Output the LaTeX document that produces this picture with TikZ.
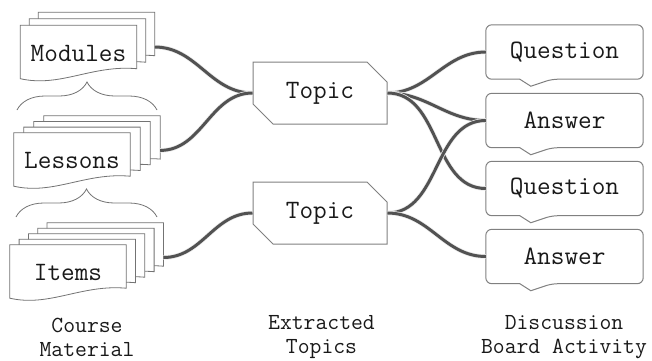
\documentclass[tikz,border=0pt]{standalone}
\usepackage{fontspec}
\usetikzlibrary{shapes,calc}
\usetikzlibrary{decorations.pathreplacing}

\begin{document}
\begin{tikzpicture}[x=1pt,y=-1pt]
    \tikzstyle{page}=[rectangle, inner sep=0pt, minimum width=116pt, minimum height=55pt]
    \tikzstyle{pageline}=[draw=black!55, fill=white, line width=0.8pt]
    \tikzstyle{doctext}=[font=\ttfamily\fontsize{26.5}{30}\selectfont, text=black!90]
    \tikzstyle{captext}=[font=\ttfamily\fontsize{23}{24}\selectfont, text=black!90, align=center, inner sep=0pt]
    \tikzstyle{topic}=[
      chamfered rectangle,
      chamfered rectangle corners={north east,south west},
      chamfered rectangle xsep=10pt,
      chamfered rectangle ysep=10pt,
      draw=black!50, fill=white, line width=1pt,
      inner sep=0pt, minimum width=134pt, minimum height=62pt,
      doctext,
    ]
    \tikzstyle{post}=[rectangle, inner sep=0pt, minimum width=157pt, minimum height=54pt, doctext]
    \tikzstyle{postline}=[draw=black!50, line width=1pt]
    \tikzstyle{brace}=[draw=black!55, line width=0.8pt, decorate, decoration={brace,amplitude=28pt}]
    \tikzstyle{link}=[line width=3pt, draw=black!68, preaction={draw=black!8, line width=4.5pt}]

    % one sheet of a stack
    \newcommand{\docpage}[3]{
      \node[page] (#1) at (#2,#3) {};
      \draw[pageline] (#1.north west) -- (#1.north east) -- ([yshift=12pt]#1.south east)
        .. controls ([xshift=-45pt,yshift=16pt]#1.south east) and ([xshift=40pt,yshift=-7pt]#1.south west)
        .. ([yshift=2pt]#1.south west) -- cycle;
    }
    % speech bubble round a post
    \newcommand{\postline}[1]{
      \draw[postline] ([xshift=66pt]#1.south west) -- ([xshift=45pt,yshift=-7pt]#1.south west)
        -- ([xshift=34pt]#1.south west) [rounded corners=6pt] -- (#1.south west) -- (#1.north west)
        -- (#1.north east) -- (#1.south east) -- cycle;
    }

    \useasboundingbox (0,0) rectangle (652,360);

    % course material
    \foreach \i in {2,1} {\docpage{nModules\i}{78.5+9*\i}{53-6.5*\i}}
    \docpage{nModules0}{78.5}{53}
    \node[doctext] (nModules) at (nModules0) {Modules};

    \foreach \i in {3,2,1} {\docpage{nLessons\i}{72+10*\i}{160.5-5.7*\i}}
    \docpage{nLessons0}{72}{160.5}
    \node[doctext] (nLessons) at (nLessons0) {Lessons};

    \foreach \i in {4,...,1} {\docpage{nItems\i}{68+9.3*\i}{272.5-5.5*\i}}
    \docpage{nItems0}{68}{272.5}
    \node[doctext] (nItems) at (nItems0) {Items};

    \coordinate (cModBraceL) at (17,110);
    \coordinate (cModBraceR) at (157,110);
    \coordinate (cLesBraceL) at (16,217);
    \coordinate (cLesBraceR) at (157,217);
    \draw[brace] (cModBraceL) -- (cModBraceR);
    \draw[brace] (cLesBraceL) -- (cLesBraceR);

    % extracted topics
    \node[topic] (nTopicA) at (320,93) {Topic};
    \node[topic] (nTopicB) at (320,213) {Topic};

    % discussion board
    \node[post] (nQuestionA) at (564.5,52) {Question};
    \node[post] (nAnswerA) at (564.5,120.5) {Answer};
    \node[post] (nQuestionB) at (564.5,188.5) {Question};
    \node[post] (nAnswerB) at (564.5,256.5) {Answer};
    \foreach \n in {nQuestionA,nAnswerA,nQuestionB,nAnswerB} {\postline{\n}}

    % links
    \draw[link] ([yshift=-7pt]nModules2.east) to[out=0,in=180] (nTopicA.west);
    \draw[link] ([yshift=-7pt]nLessons3.east) to[out=0,in=180] (nTopicA.west);
    \draw[link] ([yshift=-7pt]nItems4.east) to[out=0,in=180] (nTopicB.west);
    \draw[link] (nTopicA.east) to[out=0,in=180] (nQuestionA.west);
    \draw[link] (nTopicA.east) to[out=0,in=180] (nAnswerA.west);
    \draw[link] (nTopicA.east) to[out=0,in=180] (nQuestionB.west);
    \draw[link] (nTopicB.east) to[out=0,in=180] (nAnswerA.west);
    \draw[link] (nTopicB.east) to[out=0,in=180] (nAnswerB.west);

    % column captions
    \node[captext] (nCapMaterial) at (87,337) {Course\\Material};
    \node[captext] (nCapTopics) at (321.5,337) {Extracted\\Topics};
    \node[captext] (nCapBoard) at (564,337) {Discussion\\Board Activity};
\end{tikzpicture}
\end{document}
